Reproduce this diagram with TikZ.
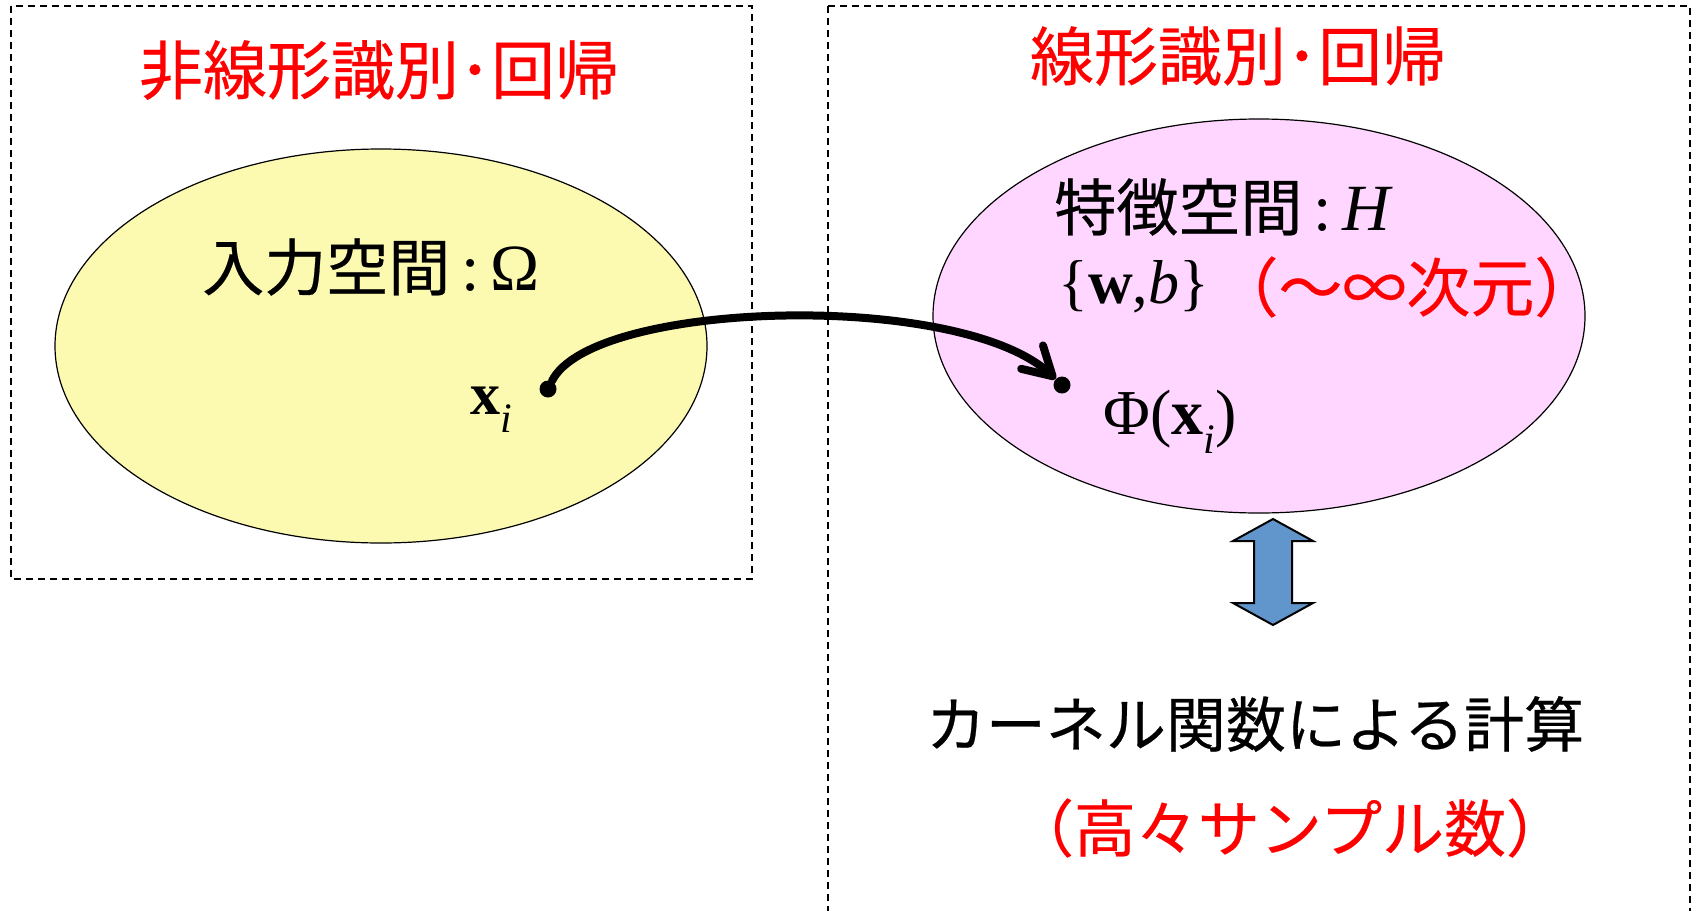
\documentclass[tikz,border=0pt]{standalone}
\usepackage{fontspec}
\setmainfont{Liberation Serif}
\newfontfamily\jp[FakeBold=0.4]{Noto Sans CJK JP}
\usetikzlibrary{arrows.meta,shapes.geometric}
\definecolor{ylw}{RGB}{252,250,176}
\definecolor{pnk}{RGB}{255,214,255}
\definecolor{blu}{RGB}{97,150,204}
\definecolor{rd}{RGB}{255,0,0}
\newcommand\myxi{\textbf{x}\raisebox{-0.3em}{\fontsize{21pt}{21pt}\selectfont\itshape i}}
\tikzset{
  frame/.style={draw=black, line width=0.6pt, dash pattern=on 3.5pt off 2.5pt},
  space/.style={ellipse, draw=black, line width=0.6pt, inner sep=0pt,
    minimum width=326pt, minimum height=197pt},
  title/.style={inner sep=0pt, text=rd, font=\jp\fontsize{32pt}{32pt}\selectfont},
  jtext/.style={inner sep=0pt, font=\jp\fontsize{31pt}{31pt}\selectfont},
  rtext/.style={inner sep=0pt, text=rd, font=\jp\fontsize{31pt}{31pt}\selectfont},
  mtext/.style={inner sep=0pt, font=\rmfamily\fontsize{30pt}{30pt}\selectfont},
  dot/.style={circle, fill=black, inner sep=0pt},
}
\begin{document}
\begin{tikzpicture}[x=0.5pt,y=-0.5pt]
\useasboundingbox (0,0) rectangle (1696,910);
% frames
\draw[frame] (11,6) rectangle (752,579);
\draw[frame] (828,6) -- (1690,6) -- (1690,930);
\draw[frame] (828,6) -- (828,930);
% ellipses
\node[space, fill=ylw] (inp) at (381,346) {};
\node[space, fill=pnk] (feat) at (1259,316) {};
% titles
\node[title] (t1) at (379,70) {非線形識別･回帰};
\node[title] (t2) at (1238,56) {線形識別･回帰};
% labels
\node[jtext] (inl) at (371,267) {入力空間{\rmfamily\fontsize{33pt}{33pt}\selectfont\,:\,Ω}};
\node[jtext, anchor=west] (fl) at (1054,207) {特徴空間{\rmfamily\fontsize{33pt}{33pt}\selectfont\,:\,\textit{H}}};
\node[mtext, fontsize/.style={}, anchor=west, font=\rmfamily\fontsize{31pt}{31pt}\selectfont] (wb) at (1058,287) {\{\textbf{w},\textit{b}\}};
\node[rtext, anchor=west, font=\jp\fontsize{32pt}{32pt}\selectfont] (dim) at (1214,287) {（～∞次元）};
\node[mtext, anchor=west] (xil) at (470,410) {\myxi};
\node[mtext, anchor=west, font=\rmfamily\fontsize{32pt}{32pt}\selectfont] (phil) at (1103,422) {Φ(\myxi)};
% dots and mapping arrow
\node[dot, minimum size=8.5pt] (d1) at (548,389) {};
\node[dot, minimum size=8.5pt] (d2) at (1062,385) {};
\draw[line width=4pt, line cap=round, -{Straight Barb[length=14pt,width=16pt,round]}]
  (d1) .. controls (592,300) and (960,290) .. (d2);
% double arrow
\draw[fill=blu, line width=1pt, line join=miter]
  (1273,519) -- (1313,541) -- (1292,541) -- (1292,603) -- (1313,603) -- (1273,625)
  -- (1233,603) -- (1254,603) -- (1254,541) -- (1233,541) -- cycle;
% bottom texts
\node[jtext, font=\jp\fontsize{30pt}{30pt}\selectfont] (kern) at (1255,724) {カーネル関数による計算};
\node[rtext] (samp) at (1290,828) {（高々サンプル数）};
\end{tikzpicture}
\end{document}
